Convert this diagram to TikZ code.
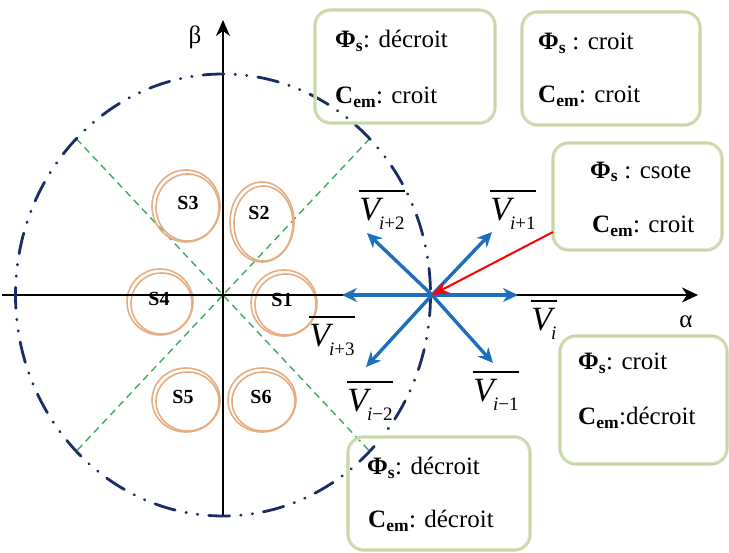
\documentclass[tikz,border=0pt]{standalone}
\usepackage{fontspec}
\setmainfont{Liberation Serif}
\usetikzlibrary{arrows.meta,calc}
\definecolor{navy}{RGB}{25,45,100}
\definecolor{dgreen}{RGB}{60,170,100}
\definecolor{ring}{RGB}{230,172,130}
\definecolor{vblue}{RGB}{30,110,190}
\definecolor{boxout}{RGB}{198,214,166}
\definecolor{boxin}{RGB}{222,232,200}
\newcommand{\vlab}[1]{\setbox0\hbox{{\fontsize{34}{34}\selectfont\itshape V}\kern-1pt\raisebox{-9pt}{\fontsize{19}{19}\selectfont #1}}\vbox{\hrule height 1.6pt width \wd0 \vskip 7pt \box0}}
\newcommand{\Phis}{\textbf{Φ\textsubscript{s}}}
\newcommand{\Cem}{\textbf{C\textsubscript{em}}}
\tikzset{
  circ/.style={navy, line width=2.8pt, line cap=round, dash pattern=on 21pt off 11pt on 0.5pt off 11pt on 0.5pt off 11pt},
  diag/.style={dgreen, line width=1.4pt, dash pattern=on 7pt off 5pt},
  ringst/.style={ring, line width=1.6pt},
  vec/.style={vblue, line width=3.4pt, -{Stealth[length=15pt,width=14pt]}},
  tbox/.style={draw=boxout, line width=3.2pt, rounded corners=16pt, inner sep=0pt},
  tboxin/.style={draw=boxin, line width=1pt, rounded corners=13pt, inner sep=0pt},
  txt/.style={font=\fontsize{25}{30}\selectfont, anchor=west, inner sep=0pt},
  slab/.style={font=\fontsize{20}{24}\selectfont\bfseries, inner sep=0pt},
  vl/.style={inner sep=0pt},
}
\begin{document}
\begin{tikzpicture}[x=1pt,y=-1pt]
\useasboundingbox (0,0) rectangle (729,553);
% key points
\coordinate (C) at (223,295);
\coordinate (O) at (432,295);
\coordinate (aL) at (2,295);
\coordinate (aR) at (698,295);
\coordinate (bB) at (223,517);
\coordinate (bT) at (223,20);
\coordinate (g1) at (369.7,138.7);
\coordinate (g2) at (76.3,451.3);
\coordinate (g3) at (76.3,138.7);
\coordinate (g4) at (369.7,451.3);
% green diagonals
\draw[diag] (g1) -- (g2);
\draw[diag] (g3) -- (g4);
% rings
\foreach \n/\x/\y/\rx/\ry in {1/284/303/33/33, 2/262/222/32/40, 3/186/206/34/36, 4/160/302/33/33, 5/186/400/34/32, 6/262/400/34/32}{
  \draw[ringst] (\x,\y) ellipse [x radius=\rx, y radius=\ry];
  \draw[ringst] (\x+1.5,\y+1.5) ellipse [x radius=\rx-2.5, y radius=\ry-2.5];
}
% axes
\draw[line width=1.3pt] (aL) -- (O);
\draw[line width=2.4pt, -{Stealth[length=16pt,width=15pt,inset=5pt]}] (O) -- (aR);
\draw[line width=1.5pt, -{Stealth[length=16pt,width=14pt,inset=5pt]}] (bB) -- (bT);
\node[font=\fontsize{25}{30}\selectfont] (beta) at (195,37) {β};
\node[font=\fontsize{25}{30}\selectfont] (alpha) at (686,322) {α};
% circle
\draw[circ] (C) ellipse [x radius=207.5, y radius=221];
% S labels
\node[slab] (s1) at (282,300) {S1};
\node[slab] (s2) at (259,213) {S2};
\node[slab] (s3) at (188,203) {S3};
\node[slab] (s4) at (159,299) {S4};
\node[slab] (s5) at (183,397) {S5};
\node[slab] (s6) at (261,397) {S6};
% vectors
\coordinate (v0) at (518,295);
\coordinate (v1) at (492,232);
\coordinate (v2) at (367,233);
\coordinate (v3) at (342,295);
\coordinate (vm2) at (366,367);
\coordinate (vm1) at (493,363);
\foreach \t in {v0,v1,v2,v3,vm2,vm1} \draw[vec] (O) -- (\t);
% vector labels
\node[vl] (l0) at (544,320) {\vlab{\textit{i}}};
\node[vl] (l1) at (513,210) {\vlab{\textit{i}+1}};
\node[vl] (l2) at (382,210) {\vlab{\textit{i}+2}};
\node[vl] (l3) at (332,336) {\vlab{\textit{i}+3}};
\node[vl] (lm2) at (370,401) {\vlab{\textit{i}−2}};
\node[vl] (lm1) at (496,391) {\vlab{\textit{i}−1}};
% boxes
\node[tbox, minimum width=180pt, minimum height=113pt] (b1) at (405,66.5) {};
\node[tbox, minimum width=178pt, minimum height=113pt] (b2) at (611,68.5) {};
\node[tbox, minimum width=169pt, minimum height=107pt] (b3) at (637.5,196.5) {};
\node[tbox, minimum width=167pt, minimum height=128pt] (b4) at (643.5,400) {};
\node[tbox, minimum width=182pt, minimum height=113pt] (b5) at (439,493.5) {};
\foreach \b in {b1,b2,b3,b4,b5}
  \draw[tboxin] ($(\b.south west)+(3,-3)$) rectangle ($(\b.north east)+(-3,3)$);
% texts
\node[txt] (t1a) at (335,41) {\Phis: décroit};
\node[txt] (t1b) at (335,97) {\Cem: croit};
\node[txt] (t2a) at (538,43) {\Phis\ : croit};
\node[txt] (t2b) at (538,96) {\Cem: croit};
\node[txt] (t3a) at (590,172) {\Phis\ : csote};
\node[txt] (t3b) at (592,226) {\Cem: croit};
\node[txt] (t4a) at (578,363) {\Phis: croit};
\node[txt] (t4b) at (578,418) {\Cem:décroit};
\node[txt] (t5a) at (367,468) {\Phis: décroit};
\node[txt] (t5b) at (368,521) {\Cem: décroit};
% red arrow
\coordinate (r0) at (553,232);
\draw[red, line width=2pt, -{Stealth[length=17pt,width=13pt]}] (r0) -- (O);
\end{tikzpicture}
\end{document}
